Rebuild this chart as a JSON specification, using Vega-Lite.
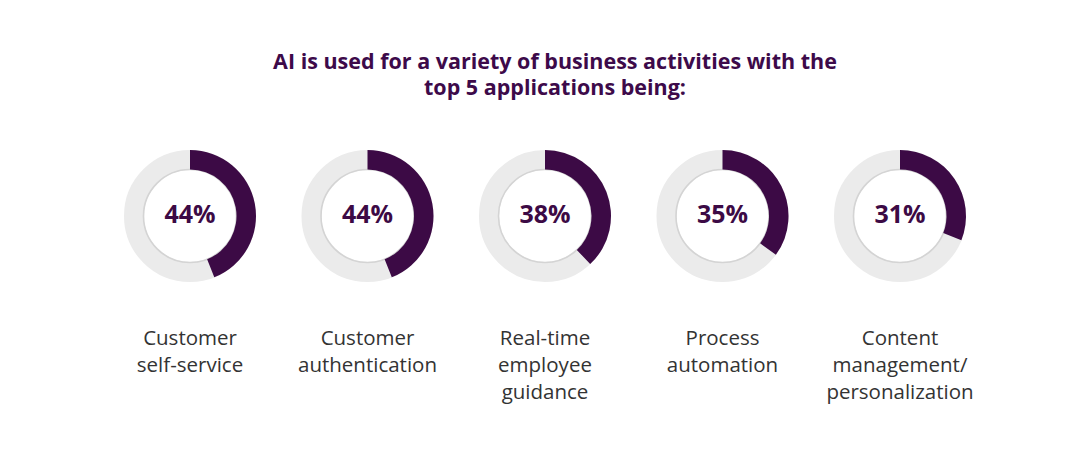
{
  "$schema": "https://vega.github.io/schema/vega-lite/v6.json",
  "width": 1080,
  "height": 471,
  "autosize": {"type": "none"},
  "padding": 0,
  "background": "white",
  "config": {"view": {"stroke": null}},
  "datasets": {
    "apps": [
      {"application": "Customer self-service", "share": 0.44},
      {"application": "Customer authentication", "share": 0.44},
      {"application": "Real-time employee guidance", "share": 0.38},
      {"application": "Process automation", "share": 0.35},
      {"application": "Content management/ personalization", "share": 0.31}
    ],
    "heading": [
      {"title": "AI is used for a variety of business activities with the|top 5 applications being:"}
    ]
  },
  "layer": [
    {
      "data": {"name": "heading"},
      "mark": {"type": "text", "x": 555, "y": 68.5, "font": "Open Sans", "fontSize": 21.5, "fontWeight": "bold", "color": "#3d0a4a", "baseline": "alphabetic", "align": "center", "lineBreak": "|", "lineHeight": 26.5},
      "encoding": {"text": {"field": "title", "type": "nominal"}}
    },
    {
      "data": {"name": "apps"},
      "encoding": {
        "x": {
          "field": "application",
          "type": "nominal",
          "sort": null,
          "scale": {"type": "point", "range": [190, 900], "padding": 0},
          "axis": null
        }
      },
      "layer": [
        {
          "mark": {"type": "point", "shape": "circle", "filled": false, "size": 12544, "strokeWidth": 20, "y": 216, "color": "#ebebeb", "opacity": 1}
        },
        {
          "mark": {"type": "point", "shape": "circle", "filled": false, "size": 8649, "strokeWidth": 1.6, "y": 216, "color": "#d4d4d4", "opacity": 1}
        },
        {
          "mark": {"type": "arc", "radius": 66, "radius2": 46.5, "y": 216, "color": "#3c0a45"},
          "encoding": {
            "theta": {"field": "share", "type": "quantitative", "stack": null, "scale": {"domain": [0, 1], "range": [0, 6.2832]}}
          }
        },
        {
          "mark": {"type": "text", "y": 223, "font": "Open Sans", "fontSize": 25, "fontWeight": "bold", "color": "#3c0a45", "baseline": "alphabetic", "align": "center"},
          "encoding": {"text": {"field": "share", "type": "quantitative", "format": ".0%"}}
        },
        {
          "mark": {"type": "text", "y": 345, "font": "Open Sans", "fontSize": 20.5, "color": "#333333", "baseline": "alphabetic", "align": "center", "lineBreak": " ", "lineHeight": 27},
          "encoding": {"text": {"field": "application", "type": "nominal"}}
        }
      ]
    }
  ]
}
